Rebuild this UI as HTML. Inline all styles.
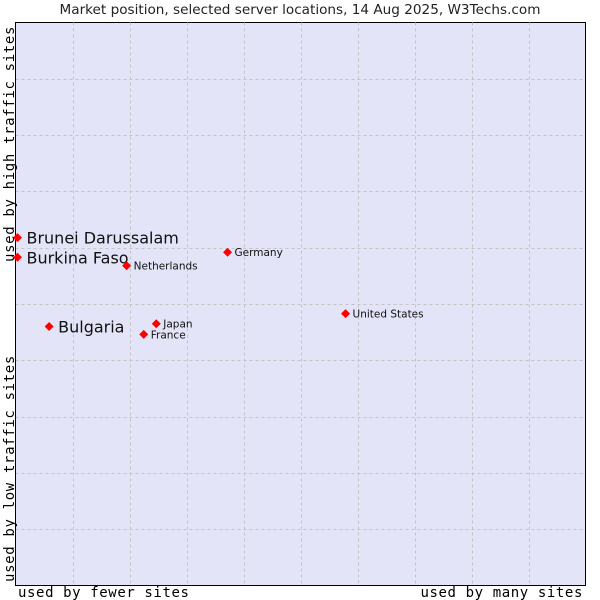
<!DOCTYPE html>
<html><head><meta charset="utf-8"><style>
body{margin:0;background:#fff;width:600px;height:600px;overflow:hidden}
svg{display:block}
</style></head><body>
<svg id="chart" width="600" height="600" xmlns="http://www.w3.org/2000/svg">
<text x="300" y="14" text-anchor="middle" font-family="DejaVu Sans, sans-serif" font-size="13.6" fill="#222">Market position, selected server locations, 14 Aug 2025, W3Techs.com</text>
<rect x="15.5" y="22.5" width="570" height="563" fill="#e4e4f8" stroke="#000" stroke-width="1"/>
<g id="grid"></g>
<line x1="15.5" y1="22" x2="15.5" y2="586" stroke="#000"/>
<line x1="15" y1="585.5" x2="586" y2="585.5" stroke="#000"/>
<text x="18" y="597" font-family="DejaVu Sans Mono, Liberation Mono, monospace" font-size="14" letter-spacing="0.6">used by fewer sites</text>
<text x="583" y="597" text-anchor="end" font-family="DejaVu Sans Mono, Liberation Mono, monospace" font-size="14" letter-spacing="0.6">used by many sites</text>
<text transform="translate(14,582) rotate(-90)" font-family="DejaVu Sans Mono, Liberation Mono, monospace" font-size="14" letter-spacing="0.65">used by low traffic sites</text>
<text transform="translate(14,262) rotate(-90)" font-family="DejaVu Sans Mono, Liberation Mono, monospace" font-size="14" letter-spacing="0.65">used by high traffic sites</text>
<g id="points"></g>
</svg>
<script>
const names = ["Brunei Darussalam","Burkina Faso","Bulgaria","Netherlands","Germany","Japan","France","United States"];
const xVals = [0.35,0.35,5.9,19.5,37.2,24.7,22.5,57.9];
const yVals = [61.8,58.3,46.0,56.8,59.2,46.5,44.6,48.3];
const bigLabel = [true,true,true,false,false,false,false,false];
const labelDy = [0,0,0,0,0,0,0,0];
const X0=15.5,X1=585.5,Y0=585.5,Y1=22.5;
const xs=v=>X0+(X1-X0)*v/100;
const ys=v=>Y0-(Y0-Y1)*v/100;
const NS="http://www.w3.org/2000/svg";
const grid=document.getElementById('grid');
for(let i=1;i<10;i++){
  const l=document.createElementNS(NS,'line');
  const x=Math.round(xs(i*10))+0.5;
  l.setAttribute('x1',x);l.setAttribute('x2',x);l.setAttribute('y1',Y1);l.setAttribute('y2',Y0);
  l.setAttribute('stroke','#c4c4c4');l.setAttribute('stroke-dasharray','3,3');
  
  
  grid.appendChild(l);
  const h=document.createElementNS(NS,'line');
  const y=Math.round(ys(i*10))+0.5;
  h.setAttribute('x1',X0);h.setAttribute('x2',X1);h.setAttribute('y1',y);h.setAttribute('y2',y);
  h.setAttribute('stroke','#c4c4c4');h.setAttribute('stroke-dasharray','3,3');
  
  
  grid.appendChild(h);
}
const pts=document.getElementById('points');
names.forEach((n,i)=>{
  const cx=xs(xVals[i]),cy=ys(yVals[i]);
  const d=document.createElementNS(NS,'path');
  d.setAttribute('d',`M${cx-4.5},${cy} L${cx},${cy-4.5} L${cx+4.5},${cy} L${cx},${cy+4.5} Z`);
  d.setAttribute('fill','#ff0000');
  
  
  pts.appendChild(d);
  const t=document.createElementNS(NS,'text');
  t.setAttribute('font-family','DejaVu Sans, Liberation Sans, sans-serif');
  if(bigLabel[i]){t.setAttribute('font-size','16');t.setAttribute('x',cx+9);t.setAttribute('y',cy+6+labelDy[i]);}
  else{t.setAttribute('font-size','10.5');t.setAttribute('x',cx+7);t.setAttribute('y',cy+4+labelDy[i]);}
  t.setAttribute('fill','#111');
  t.textContent=n;
  
  
  pts.appendChild(t);
});
</script>
</body></html>
